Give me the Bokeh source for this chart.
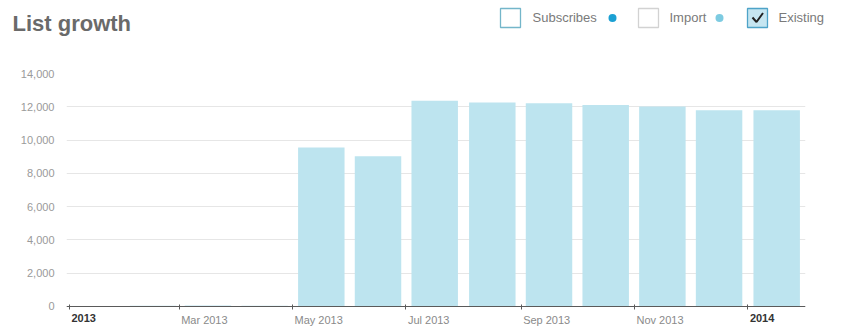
import pandas as pd
from bokeh.plotting import figure
from bokeh.layouts import column
from bokeh.models import (Range1d, ColumnDataSource, FixedTicker, NumeralTickFormatter,
                          MonthsTicker)
from bokeh.core.properties import value
from bokeh.embed import file_html
from bokeh.resources import INLINE

# ---- data ----
months = ["2013-01", "2013-02", "2013-03", "2013-04", "2013-05", "2013-06", "2013-07",
          "2013-08", "2013-09", "2013-10", "2013-11", "2013-12", "2014-01"]
existing = [20, 40, 60, 50, 9560, 9030, 12370, 12260, 12210, 12100, 12020, 11790, 11790]
title_text = "List growth"
legend_labels = ["Subscribes", "Import", "Existing"]
y_ticks = [0, 2000, 4000, 6000, 8000, 10000, 12000, 14000]
x_tick_dates = ["2013-03-01", "2013-05-01", "2013-07-01", "2013-09-01", "2013-11-01"]
x_tick_labels = ["Mar 2013", "May 2013", "Jul 2013", "Sep 2013", "Nov 2013"]
year_dates = ["2013-01-01", "2014-01-01"]
year_labels = ["2013", "2014"]

FONT = "Liberation Sans"

starts = [pd.Timestamp(m + "-01") for m in months]
ends = [s + pd.offsets.MonthBegin(1) for s in starts]
centers = [s + (e - s) / 2 for s, e in zip(starts, ends)]
src = ColumnDataSource(dict(x=centers, top=existing))

def ms(ts):
    return pd.Timestamp(ts).value / 1e6

# ---- header (title + legend) ----
hdr = figure(width=842, height=45, x_range=Range1d(0, 842), y_range=Range1d(45, 0),
             toolbar_location=None, output_backend="svg", min_border=0)
if "frame_align" in hdr.properties():
    hdr.frame_align = False
hdr.axis.visible = False
hdr.grid.visible = False
hdr.outline_line_color = None
hdr.text(x=[12], y=[22.5], text=[title_text], text_font=value(FONT), text_font_size="22px",
         text_font_style="bold", text_color="#6a6a6a", text_baseline="alphabetic")
hdr.quad(left=[500, 638, 747], right=[520, 658, 767], top=[8, 8, 8], bottom=[27, 27, 27],
         fill_color=["white", "white", "#c6e6f1"],
         line_color=["#74b6ca", "#d2d2d2", "#4ea3c8"], line_width=1.3)
hdr.line(x=[752, 756, 762.5], y=[17, 21.5, 12.5], line_color="#222222", line_width=2)
hdr.text(x=[532, 669, 778], y=[16.5, 16.5, 16.5], text=legend_labels, text_font=value(FONT),
         text_font_size="13px", text_color="#7a7a7a", text_baseline="alphabetic")
hdr.scatter(x=[612, 719], y=[17.5, 17.5], size=8, fill_color=["#1ba0d3", "#7dcbe1"], line_color=None)

# ---- chart ----
x0 = ms("2013-01-01") - 1.6 * 86400000
x1 = ms("2014-02-01")
p = figure(width=842, height=283, x_axis_type="datetime",
           x_range=Range1d(x0, x1), y_range=Range1d(-1322, 14000),
           toolbar_location=None, output_backend="svg",
           min_border_left=66, min_border_right=37, min_border_top=28, min_border_bottom=0)
if "frame_align" in p.properties():
    p.frame_align = False
p.outline_line_color = None
p.xgrid.visible = False
p.ygrid.grid_line_color = "#e6e6e6"
p.ygrid.grid_line_width = 1

p.vbar(x="x", top="top", width=25 * 86400000, source=src, fill_color="#bde4ef", line_color=None)

# y axis
p.yaxis.ticker = FixedTicker(ticks=y_ticks)
p.yaxis.formatter = NumeralTickFormatter(format="0,0")
p.yaxis.axis_line_color = None
p.yaxis.major_tick_line_color = None
p.yaxis.minor_tick_line_color = None
p.yaxis.major_label_standoff = 6
p.yaxis.major_label_text_font = FONT
p.yaxis.major_label_text_font_size = "11px"
p.yaxis.major_label_text_color = "#9a9a9a"

# x axis, pinned at y = 0; labels are left-aligned at their ticks
p.xaxis.fixed_location = 0
p.xaxis.ticker = MonthsTicker(months=[0, 2, 4, 6, 8, 10])
p.xaxis.axis_line_color = "#5a5a5a"
p.xaxis.axis_line_width = 1
p.xaxis.major_tick_line_color = "#5a5a5a"
p.xaxis.major_tick_in = 2
p.xaxis.major_tick_out = 3
p.xaxis.minor_tick_line_color = None
p.xaxis.major_label_text_color = None

p.text(x=[ms(d) for d in x_tick_dates], y=[0] * len(x_tick_dates), text=x_tick_labels,
       x_offset=2, y_offset=8, text_baseline="top", text_align="left",
       text_font=value(FONT), text_font_size="11px", text_color="#8a8a8a")
p.text(x=[ms(d) for d in year_dates], y=[0] * len(year_dates), text=year_labels,
       x_offset=2, y_offset=8, text_baseline="top", text_align="left",
       text_font=value(FONT), text_font_size="11px", text_font_style="bold",
       text_color="#333333")

layout = column(hdr, p, spacing=0)
open("out.html", "w").write(file_html(layout, INLINE))
